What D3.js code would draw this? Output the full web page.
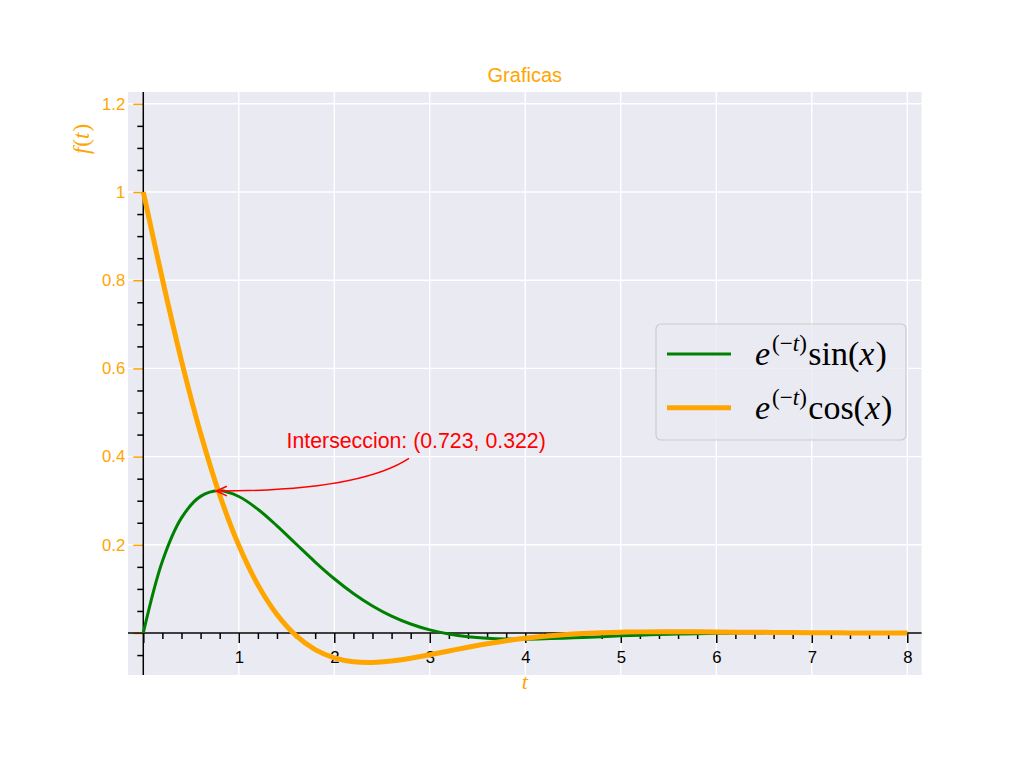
<!DOCTYPE html>
<html>
<head>
<meta charset="utf-8">
<script src="https://cdn.jsdelivr.net/npm/d3@7"></script>
<style>
  html, body { margin: 0; padding: 0; background: #ffffff; }
  svg { display: block; }
</style>
</head>
<body>
<svg id="chart" width="1024" height="768"></svg>
<script>
// ---------------- data ----------------
const tValues = [0,0.2,0.4,0.6,0.8,1.0,1.2,1.4,1.6,1.8,2.0,2.2,2.4,2.6,2.8,3.0,3.2,3.4,3.6,3.8,4.0,
                 4.2,4.4,4.6,4.8,5.0,5.2,5.4,5.6,5.8,6.0,6.2,6.4,6.6,6.8,7.0,7.2,7.4,7.6,7.8,8.0];
const sinSeries = [0,0.16266,0.26103,0.30988,0.32233,0.30956,0.28072,0.24301,0.20181,0.16098,0.12306,
                   0.08958,0.06128,0.03829,0.02037,0.00703,-0.00238,-0.00853,-0.01209,-0.01369,-0.01386,
                   -0.01307,-0.01169,-0.00999,-0.00820,-0.00646,-0.00488,-0.00349,-0.00234,-0.00141,-0.00069,
                   -0.00017,0.00019,0.00042,0.00055,0.00060,0.00059,0.00055,0.00048,0.00041,0.00033];
const cosSeries = [1,0.80241,0.61741,0.45295,0.31305,0.19877,0.10914,0.04191,-0.00590,-0.03756,-0.05632,
                   -0.06521,-0.06690,-0.06364,-0.05730,-0.04929,-0.04069,-0.03226,-0.02450,-0.01769,-0.01197,
                   -0.00735,-0.00378,-0.00113,0.00072,0.00191,0.00259,0.00287,0.00287,0.00268,0.00238,
                   0.00202,0.00165,0.00129,0.00097,0.00069,0.00045,0.00027,0.00013,0.00002,-0.00005];
const xMajorTicks = [0,1,2,3,4,5,6,7,8];
const xTickLabels = ["","1","2","3","4","5","6","7","8"];
const xMinorTicks = [0.2,0.4,0.6,0.8,1.2,1.4,1.6,1.8,2.2,2.4,2.6,2.8,3.2,3.4,3.6,3.8,4.2,4.4,4.6,4.8,
                     5.2,5.4,5.6,5.8,6.2,6.4,6.6,6.8,7.2,7.4,7.6,7.8];
const yMajorTicks = [0,0.2,0.4,0.6,0.8,1.0,1.2];
const yTickLabels = ["","0.2","0.4","0.6","0.8","1","1.2"];
const yMinorTicks = [-0.05,0.05,0.1,0.15,0.25,0.3,0.35,0.45,0.5,0.55,0.65,0.7,0.75,0.85,0.9,0.95,1.05,1.1,1.15];
const intersection = [0.723, 0.322];
const annotationTextPos = [1.5, 0.42];
const annotationText = "Interseccion: (0.723, 0.322)";
const titleText = "Graficas";
const xDomain = [-0.16, 8.15];
const yDomain = [-0.0952, 1.2268];

// ---------------- layout ----------------
const plot = { left: 128, right: 921.6, top: 92, bottom: 675 };
const ORANGE = "#FFA500", GREEN = "#008000", RED = "#FF0000";
const SANS = "'Liberation Sans', Arial, sans-serif";
const SERIF = "'Liberation Serif', 'Times New Roman', serif";

const svg = d3.select("#chart");
const x = d3.scaleLinear().domain(xDomain).range([plot.left, plot.right]);
const y = d3.scaleLinear().domain(yDomain).range([plot.bottom, plot.top]);

// background
svg.append("rect")
  .attr("x", plot.left).attr("y", plot.top)
  .attr("width", plot.right - plot.left).attr("height", plot.bottom - plot.top)
  .attr("fill", "#EAEAF2");

// grid
const grid = svg.append("g").attr("stroke", "#ffffff").attr("stroke-width", 1.4);
grid.selectAll("line.v").data(xMajorTicks).join("line")
  .attr("x1", d => x(d)).attr("x2", d => x(d))
  .attr("y1", plot.top).attr("y2", plot.bottom);
grid.selectAll("line.h").data(yMajorTicks).join("line")
  .attr("x1", plot.left).attr("x2", plot.right)
  .attr("y1", d => y(d)).attr("y2", d => y(d));

// ---------------- axes (spines through zero) ----------------
const x0 = x(0), y0 = y(0);

// x minor ticks
const xMinor = svg.append("g").attr("transform", `translate(0,${y0})`)
  .call(d3.axisBottom(x).tickValues(xMinorTicks).tickSize(6).tickFormat(""));
xMinor.select(".domain").remove();
xMinor.selectAll(".tick line").attr("stroke", "#000").attr("stroke-width", 1.5);

// x major ticks
const xMajor = svg.append("g").attr("transform", `translate(0,${y0})`)
  .call(d3.axisBottom(x).tickValues(xMajorTicks).tickSize(10).tickPadding(8)
        .tickFormat((d, i) => xTickLabels[i]));
xMajor.select(".domain").remove();
xMajor.selectAll(".tick line").attr("stroke", "#000").attr("stroke-width", 1.5);
xMajor.selectAll(".tick text").attr("fill", "#000").attr("font-family", SANS).attr("font-size", 16.7);

// y minor ticks
const yMinor = svg.append("g").attr("transform", `translate(${x0},0)`)
  .call(d3.axisLeft(y).tickValues(yMinorTicks).tickSize(6).tickFormat(""));
yMinor.select(".domain").remove();
yMinor.selectAll(".tick line").attr("stroke", "#000").attr("stroke-width", 1.5);

// y major ticks
const yMajor = svg.append("g").attr("transform", `translate(${x0},0)`)
  .call(d3.axisLeft(y).tickValues(yMajorTicks).tickSize(10).tickPadding(8)
        .tickFormat((d, i) => yTickLabels[i]));
yMajor.select(".domain").remove();
yMajor.selectAll(".tick line").attr("stroke", ORANGE).attr("stroke-width", 1.5);
yMajor.selectAll(".tick text").attr("fill", ORANGE).attr("font-family", SANS).attr("font-size", 16.7);

// spines
svg.append("line").attr("x1", x0).attr("x2", x0).attr("y1", plot.top).attr("y2", plot.bottom)
  .attr("stroke", "#000").attr("stroke-width", 1.5);
svg.append("line").attr("x1", plot.left).attr("x2", plot.right).attr("y1", y0).attr("y2", y0)
  .attr("stroke", "#000").attr("stroke-width", 1.5);

// ---------------- curves ----------------
const line = d3.line().curve(d3.curveCatmullRom.alpha(0.5))
  .x(d => x(d[0])).y(d => y(d[1]));
svg.append("path").datum(tValues.map((t, i) => [t, sinSeries[i]]))
  .attr("d", line).attr("fill", "none").attr("stroke", GREEN).attr("stroke-width", 3)
  .attr("stroke-linecap", "butt");
svg.append("path").datum(tValues.map((t, i) => [t, cosSeries[i]]))
  .attr("d", line).attr("fill", "none").attr("stroke", ORANGE).attr("stroke-width", 5)
  .attr("stroke-linecap", "butt");

// ---------------- annotation ----------------
const tx = x(annotationTextPos[0]), ty = y(annotationTextPos[1]);
svg.append("text").attr("x", tx).attr("y", ty)
  .attr("font-family", SANS).attr("font-size", 21.3).attr("fill", RED)
  .text(annotationText);
const ex = x(intersection[0]), ey = y(intersection[1]);
const sx = tx + 122.5, sy = ty + 10.5;
const cx = sx - 50, cy = ey;
// shrink end toward control point
const dxE = cx - ex, dyE = cy - ey, lenE = Math.hypot(dxE, dyE);
const tipX = ex + dxE / lenE * 4, tipY = ey + dyE / lenE * 4;
svg.append("path")
  .attr("d", `M${sx},${sy} Q${cx},${cy} ${tipX},${tipY}`)
  .attr("fill", "none").attr("stroke", RED).attr("stroke-width", 1.5);
{
  const ux = (cx - tipX), uy = (cy - tipY), L = Math.hypot(ux, uy);
  const nx = ux / L, ny = uy / L;
  const hl = 10.5, hw = 4.8;
  const p1 = [tipX + nx * hl - ny * hw, tipY + ny * hl + nx * hw];
  const p2 = [tipX + nx * hl + ny * hw, tipY + ny * hl - nx * hw];
  svg.append("path")
    .attr("d", `M${p1[0]},${p1[1]} L${tipX},${tipY} L${p2[0]},${p2[1]}`)
    .attr("fill", "none").attr("stroke", RED).attr("stroke-width", 1.5)
    .attr("stroke-linejoin", "miter");
}

// ---------------- title & labels ----------------
const cxPlot = (plot.left + plot.right) / 2;
svg.append("text").attr("x", cxPlot).attr("y", 81.7).attr("text-anchor", "middle")
  .attr("font-family", SANS).attr("font-size", 20).attr("fill", ORANGE).text(titleText);
svg.append("text").attr("x", cxPlot).attr("y", 689).attr("text-anchor", "middle")
  .attr("font-family", SERIF).attr("font-style", "italic").attr("font-size", 22)
  .attr("fill", ORANGE).text("t");
{
  const yl = svg.append("text").attr("transform", "translate(89,139) rotate(-90)")
    .attr("text-anchor", "middle").attr("font-family", SERIF).attr("font-size", 23)
    .attr("fill", ORANGE);
  yl.append("tspan").attr("font-style", "italic").text("f");
  yl.append("tspan").attr("dx", 1).text("(");
  yl.append("tspan").attr("font-style", "italic").text("t");
  yl.append("tspan").attr("dx", 1).text(")");
}

// ---------------- legend ----------------
const legendItems = [
  { fn: "sin", color: GREEN, width: 3 },
  { fn: "cos", color: ORANGE, width: 5 }
];
const legend = svg.append("g");
legend.append("rect").attr("x", 656).attr("y", 324).attr("width", 250).attr("height", 116)
  .attr("rx", 5).attr("fill", "#EAEAF2").attr("fill-opacity", 0.8)
  .attr("stroke", "#cccccc").attr("stroke-width", 1.2);
legendItems.forEach((it, i) => {
  const ly = 354 + i * 53.7;
  legend.append("line").attr("x1", 667).attr("x2", 731).attr("y1", ly).attr("y2", ly)
    .attr("stroke", it.color).attr("stroke-width", it.width);
  const t = legend.append("text").attr("x", 755).attr("y", ly + 11)
    .attr("font-family", SERIF).attr("font-size", 34).attr("fill", "#000");
  t.append("tspan").attr("font-style", "italic").text("e");
  t.append("tspan").attr("font-size", 23).attr("dy", -14).attr("dx", 2).text("(\u2212");
  t.append("tspan").attr("font-size", 23).attr("font-style", "italic").text("t");
  t.append("tspan").attr("font-size", 23).text(")");
  t.append("tspan").attr("dy", 14).attr("dx", 1.5).text(it.fn + "(");
  t.append("tspan").attr("font-style", "italic").text("x");
  t.append("tspan").attr("dx", 1).text(")");
});
</script>
</body>
</html>
